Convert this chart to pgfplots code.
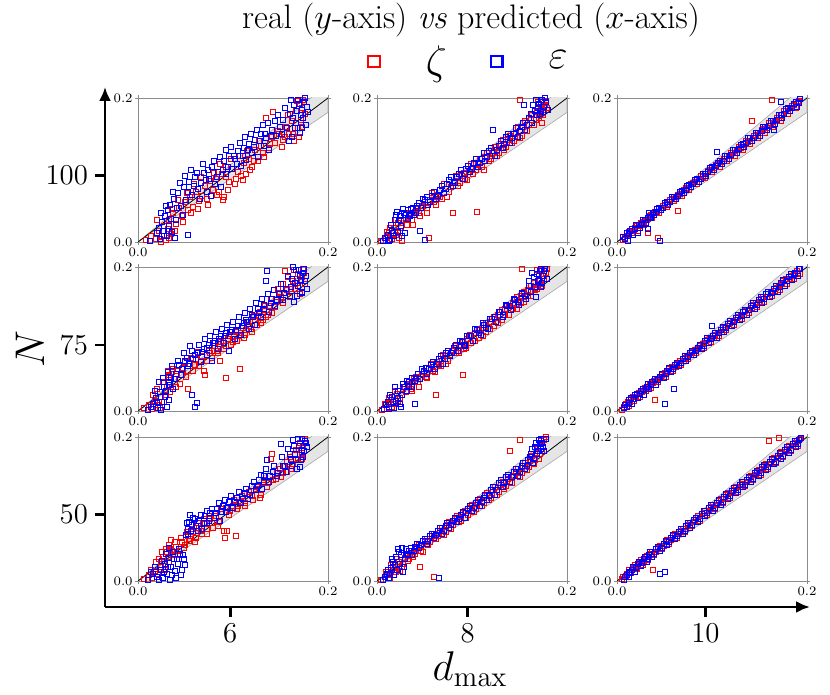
\documentclass[border=0pt]{standalone}
\usepackage{pgfplots}
\pgfplotsset{compat=1.18}
\usetikzlibrary{arrows.meta}
\pgfplotsset{
  pnl/.style={
    scale only axis, width=95pt, height=72pt, anchor=north west,
    xmin=0, xmax=0.2, ymin=0, ymax=0.2,
    xtick={0,0.2}, ytick={0,0.2},
    xticklabels={0.0,0.2}, yticklabels={0.0,0.2},
    tick align=outside, major tick length=1.5pt,
    axis line style={black!45, line width=0.4pt},
    every tick/.style={black!45, line width=0.4pt},
    tick label style={font=\fontsize{6.5}{7}\selectfont, inner sep=1pt},
    clip=true,
  },
  rmark/.style={only marks, mark=square, mark size=1.25pt, red, mark options={line width=0.4pt}},
  bmark/.style={only marks, mark=square, mark size=1.25pt, blue, mark options={line width=0.4pt}},
}
\newcommand{\panel}[5]{%
\begin{axis}[pnl, at={#1}]
\addplot[fill=black!10, draw=black!35, line width=0.3pt] coordinates {(0,0) (0.2,0.22) (0.2,0.18) (0,0)};
\addplot[rmark] coordinates {#2 #4};
\addplot[bmark] coordinates {#3 #5};
\addplot[black, line width=0.4pt] coordinates {(0,0) (0.2,0.2)};
\end{axis}}
\begin{document}
\begin{tikzpicture}
\useasboundingbox (0,0) rectangle (415pt,347.5pt);
\node at (235.5pt,337.5pt) {\fontsize{17}{19}\selectfont real ($y$-axis) \textit{vs} predicted ($x$-axis)};
\node[rotate=90] at (15pt,173pt) {\fontsize{22}{24}\selectfont $N$};
\node at (235pt,13pt) {\fontsize{22}{24}\selectfont $d_{\max}$};
\begin{axis}[scale only axis, at={(52.5pt,44pt)}, anchor=south west,
  width=352.5pt, height=260pt,
  xmin=4.947, xmax=10.88, ymin=36.4, ymax=113,
  axis lines=left,
  axis line style={line width=1.4pt, -{Latex[length=7pt,width=6pt]}},
  xtick={6,8,10}, ytick={50,75,100},
  tick align=outside, major tick length=5pt,
  every tick/.style={black, line width=1.4pt},
  tick label style={font=\fontsize{15}{18}\selectfont},
  legend style={draw=none, fill=none, at={(axis description cs:0.516,1.049)}, anchor=center,
    legend columns=2, font=\fontsize{21}{23}\selectfont, inner sep=0pt,
    /tikz/every even column/.append style={column sep=19pt}},
  legend image code/.code={\path[draw=none,fill=none] (0pt,-3pt) rectangle (28pt,3pt); \draw[mark repeat=2,mark phase=2,#1] plot coordinates {(0pt,0pt)(4pt,0pt)(28pt,0pt)};},
]
\addlegendimage{only marks, mark=square, mark size=2.9pt, red, mark options={line width=1.1pt}}
\addlegendentry{$\zeta$}
\addlegendimage{only marks, mark=square, mark size=2.9pt, blue, mark options={line width=1.1pt}}
\addlegendentry{$\varepsilon$}
\end{axis}
% row 1
\panel{(69pt,298.5pt)}{(.008,.003) (.014,.008) (.019,.004) (.022,.015) (.025,.009) (.027,.022) (.029,.003) (.031,.018) (.033,.030) (.035,.011) (.037,.040) (.040,.025) (.043,.048) (.046,.036) (.049,.055) (.052,.044) (.055,.062) (.058,.049) (.061,.070) (.064,.057) (.067,.064) (.070,.078) (.073,.060) (.076,.085) (.079,.072) (.082,.088) (.085,.070) (.088,.094) (.090,.063) (.093,.090) (.096,.084) (.099,.101) (.102,.080) (.105,.098) (.108,.092) (.111,.110) (.114,.095) (.117,.116) (.120,.104) (.123,.128) (.126,.112) (.129,.133) (.132,.118) (.135,.172) (.138,.130) (.141,.146) (.144,.138) (.148,.150) (.152,.142) (.156,.160) (.159,.150) (.162,.168) (.164,.140) (.166,.182) (.168,.158) (.170,.192) (.171,.170) (.173,.186) (.174,.198) (.176,.178)}
{(.012,.002) (.020,.012) (.023,.004) (.025,.028) (.026,.016) (.028,.036) (.030,.008) (.031,.044) (.033,.022) (.034,.052) (.036,.014) (.038,.060) (.040,.030) (.042,.068) (.045,.050) (.048,.076) (.050,.058) (.052,.010) (.054,.084) (.057,.066) (.060,.090) (.063,.074) (.066,.082) (.069,.096) (.072,.070) (.075,.088) (.078,.104) (.081,.080) (.084,.098) (.087,.076) (.090,.112) (.093,.094) (.096,.120) (.099,.102) (.102,.116) (.105,.126) (.108,.106) (.111,.130) (.114,.114) (.117,.136) (.120,.124) (.123,.142) (.126,.118) (.129,.150) (.132,.134) (.135,.144) (.138,.128) (.141,.156) (.145,.148) (.149,.160) (.153,.170) (.157,.158) (.160,.178) (.162,.146) (.164,.190) (.166,.165) (.168,.198) (.170,.152) (.172,.184) (.174,.172) (.175,.195) (.177,.162) (.178,.188)}
{(.020,.030) (.024,.000) (.032,.006) (.036,.046) (.039,.016) (.042,.058) (.047,.028) (.051,.068) (.056,.040) (.059,.080) (.063,.046) (.066,.090) (.071,.086) (.074,.052) (.080,.096) (.083,.066) (.086,.108) (.089,.058) (.092,.104) (.095,.072) (.098,.115) (.103,.088) (.107,.120) (.110,.086) (.115,.126) (.118,.100) (.122,.112) (.127,.140) (.131,.124) (.134,.150) (.139,.136) (.142,.180) (.147,.154) (.151,.132) (.155,.146) (.158,.176) (.163,.150) (.167,.196) (.169,.146) (.172,.160)}
{(.022,.020) (.024,.040) (.027,.008) (.029,.050) (.032,.016) (.035,.032) (.037,.070) (.039,.006) (.041,.048) (.044,.082) (.047,.038) (.049,.092) (.053,.070) (.056,.100) (.059,.078) (.062,.096) (.065,.060) (.068,.108) (.071,.086) (.074,.100) (.077,.064) (.080,.112) (.083,.090) (.086,.118) (.089,.100) (.092,.128) (.095,.104) (.098,.132) (.101,.120) (.104,.108) (.107,.138) (.110,.120) (.113,.146) (.116,.128) (.119,.150) (.122,.132) (.125,.156) (.128,.140) (.131,.162) (.134,.150) (.137,.166) (.140,.148) (.144,.168) (.147,.176) (.151,.150) (.155,.186) (.159,.140) (.161,.198) (.163,.172) (.165,.158) (.167,.182) (.169,.192) (.171,.176) (.173,.158) (.176,.200) (.179,.180)}
\panel{(188.5pt,298.5pt)}{(.004,.002) (.009,.006) (.013,.012) (.016,.004) (.018,.020) (.020,.010) (.022,.026) (.024,.016) (.026,.002) (.028,.030) (.031,.024) (.034,.036) (.037,.030) (.040,.042) (.044,.040) (.048,.050) (.052,.047) (.055,.005) (.056,.058) (.060,.056) (.064,.066) (.068,.060) (.072,.074) (.076,.070) (.080,.040) (.081,.084) (.085,.078) (.089,.092) (.093,.088) (.097,.098) (.101,.094) (.105,.042) (.106,.108) (.110,.104) (.114,.118) (.118,.112) (.122,.124) (.126,.120) (.130,.136) (.134,.128) (.138,.142) (.142,.138) (.146,.152) (.150,.144) (.150,.198) (.154,.160) (.158,.154) (.162,.170) (.165,.162) (.168,.180) (.170,.172) (.172,.190) (.174,.166) (.176,.184) (.178,.196)}
{(.006,.001) (.011,.010) (.014,.003) (.016,.016) (.018,.008) (.019,.030) (.021,.042) (.022,.014) (.024,.036) (.025,.022) (.027,.046) (.029,.012) (.030,.038) (.033,.032) (.036,.046) (.039,.038) (.042,.050) (.045,.015) (.046,.048) (.050,.003) (.050,.058) (.054,.052) (.058,.064) (.062,.060) (.066,.072) (.070,.068) (.074,.080) (.078,.090) (.082,.082) (.086,.094) (.090,.088) (.094,.102) (.098,.098) (.102,.110) (.106,.104) (.110,.116) (.114,.112) (.118,.126) (.122,.156) (.124,.120) (.128,.134) (.132,.130) (.136,.146) (.140,.138) (.144,.150) (.148,.146) (.152,.160) (.155,.190) (.156,.156) (.160,.172) (.163,.166) (.166,.182) (.168,.176) (.170,.192) (.172,.182) (.174,.198) (.176,.188) (.178,.194) (.180,.184)}
{(.010,.014) (.014,.020) (.017,.008) (.020,.030) (.023,.006) (.025,.020) (.030,.034) (.035,.040) (.038,.024) (.042,.046) (.045,.036) (.050,.056) (.053,.040) (.058,.068) (.062,.052) (.066,.062) (.070,.080) (.074,.062) (.078,.076) (.083,.092) (.087,.082) (.091,.096) (.095,.086) (.099,.108) (.104,.100) (.108,.116) (.112,.100) (.116,.124) (.120,.116) (.124,.132) (.128,.124) (.132,.142) (.136,.132) (.140,.148) (.144,.140) (.148,.160) (.152,.148) (.156,.168) (.160,.162) (.163,.176) (.167,.170) (.169,.194) (.171,.182) (.175,.176) (.177,.190) (.179,.186)}
{(.008,.006) (.012,.002) (.015,.024) (.017,.012) (.020,.038) (.023,.030) (.026,.008) (.028,.040) (.032,.044) (.035,.036) (.038,.048) (.041,.040) (.044,.054) (.048,.060) (.052,.062) (.056,.056) (.060,.070) (.064,.064) (.068,.078) (.072,.074) (.076,.086) (.080,.078) (.084,.090) (.088,.100) (.092,.094) (.096,.106) (.100,.102) (.104,.116) (.108,.110) (.112,.124) (.116,.118) (.120,.130) (.126,.128) (.130,.140) (.134,.136) (.138,.150) (.142,.144) (.146,.158) (.150,.154) (.154,.166) (.158,.162) (.162,.178) (.164,.190) (.167,.198) (.169,.186) (.171,.178) (.173,.194) (.175,.180) (.177,.200)}
\panel{(308.5pt,298.5pt)}{(.006,.003) (.010,.008) (.013,.014) (.016,.012) (.019,.020) (.022,.016) (.025,.027) (.028,.024) (.031,.030) (.033,.013) (.034,.036) (.037,.034) (.040,.042) (.043,.005) (.044,.040) (.048,.050) (.052,.049) (.056,.058) (.060,.057) (.064,.043) (.064,.066) (.068,.064) (.072,.075) (.076,.072) (.080,.082) (.084,.080) (.088,.092) (.092,.089) (.096,.099) (.100,.098) (.104,.107) (.108,.104) (.112,.115) (.116,.112) (.120,.124) (.124,.120) (.128,.132) (.132,.128) (.136,.140) (.140,.136) (.142,.168) (.144,.148) (.148,.144) (.152,.156) (.156,.152) (.160,.165) (.163,.198) (.164,.160) (.168,.173) (.172,.168) (.176,.182) (.180,.178) (.184,.189) (.188,.186) (.191,.196)}
{(.008,.004) (.011,.002) (.014,.016) (.017,.010) (.020,.024) (.022,.012) (.024,.020) (.027,.030) (.030,.026) (.032,.018) (.034,.040) (.036,.033) (.039,.038) (.042,.046) (.045,.002) (.046,.044) (.050,.054) (.054,.052) (.058,.062) (.062,.060) (.066,.070) (.070,.068) (.074,.078) (.078,.076) (.082,.086) (.086,.084) (.090,.094) (.094,.092) (.098,.103) (.102,.100) (.105,.125) (.106,.110) (.110,.108) (.114,.119) (.118,.116) (.122,.128) (.126,.124) (.130,.135) (.134,.132) (.138,.144) (.142,.140) (.146,.152) (.150,.148) (.154,.160) (.158,.155) (.162,.168) (.165,.156) (.166,.164) (.170,.176) (.172,.195) (.174,.172) (.178,.185) (.182,.182) (.186,.192) (.189,.188) (.192,.199)}
{(.008,.006) (.012,.010) (.015,.016) (.018,.016) (.021,.022) (.024,.022) (.027,.028) (.030,.031) (.033,.032) (.036,.037) (.039,.040) (.042,.041) (.046,.047) (.050,.051) (.054,.053) (.058,.060) (.062,.062) (.066,.067) (.070,.072) (.074,.074) (.078,.080) (.082,.083) (.086,.087) (.090,.091) (.094,.095) (.098,.100) (.102,.103) (.106,.108) (.110,.111) (.114,.116) (.118,.119) (.122,.124) (.126,.128) (.130,.131) (.134,.136) (.138,.139) (.146,.149) (.150,.151) (.154,.157) (.158,.159) (.162,.165) (.166,.168) (.170,.172) (.174,.177) (.178,.182) (.182,.186) (.186,.190) (.190,.194)}
{(.006,.007) (.010,.012) (.013,.011) (.016,.018) (.019,.018) (.023,.024) (.026,.025) (.029,.031) (.032,.034) (.035,.035) (.038,.041) (.041,.042) (.044,.047) (.048,.048) (.052,.055) (.056,.056) (.060,.063) (.064,.064) (.068,.071) (.072,.073) (.076,.079) (.080,.080) (.084,.087) (.088,.088) (.092,.095) (.096,.097) (.100,.104) (.104,.105) (.108,.112) (.112,.113) (.116,.120) (.120,.121) (.124,.128) (.128,.129) (.132,.136) (.136,.138) (.140,.144) (.144,.145) (.148,.152) (.152,.154) (.156,.160) (.160,.161) (.164,.168) (.168,.170) (.172,.176) (.176,.178) (.180,.186) (.184,.186) (.188,.194) (.191,.193)}
% row 2
\panel{(69pt,214pt)}{(.006,.004) (.011,.009) (.015,.003) (.018,.014) (.021,.008) (.024,.020) (.027,.012) (.030,.034) (.032,.050) (.034,.026) (.036,.054) (.038,.044) (.041,.056) (.044,.038) (.047,.060) (.050,.048) (.053,.030) (.055,.066) (.058,.056) (.061,.072) (.064,.062) (.067,.076) (.070,.050) (.072,.070) (.075,.084) (.078,.074) (.081,.090) (.084,.080) (.087,.096) (.090,.086) (.093,.046) (.095,.100) (.098,.092) (.101,.104) (.104,.098) (.107,.058) (.108,.108) (.111,.102) (.114,.112) (.117,.118) (.120,.110) (.123,.126) (.126,.132) (.129,.122) (.132,.140) (.135,.130) (.138,.146) (.141,.136) (.145,.152) (.149,.164) (.152,.150) (.155,.195) (.157,.168) (.160,.158) (.163,.180) (.165,.170) (.168,.190) (.170,.162) (.172,.186) (.174,.198) (.176,.176)}
{(.010,.002) (.016,.010) (.019,.018) (.021,.004) (.023,.026) (.025,.012) (.027,.034) (.028,.020) (.030,.006) (.032,.040) (.033,.016) (.035,.046) (.037,.030) (.040,.052) (.043,.064) (.046,.058) (.049,.070) (.052,.062) (.055,.090) (.057,.023) (.058,.072) (.060,.005) (.062,.011) (.063,.080) (.066,.068) (.069,.086) (.072,.078) (.075,.092) (.078,.070) (.081,.098) (.084,.086) (.087,.104) (.090,.094) (.093,.108) (.096,.084) (.099,.112) (.102,.100) (.105,.118) (.108,.106) (.111,.122) (.114,.126) (.117,.114) (.120,.134) (.123,.120) (.126,.142) (.129,.130) (.132,.148) (.135,.180) (.136,.194) (.138,.138) (.141,.156) (.144,.146) (.148,.162) (.152,.154) (.156,.170) (.160,.160) (.162,.184) (.164,.152) (.166,.196) (.168,.174) (.170,.188) (.172,.164) (.174,.192) (.176,.180) (.178,.170)}
{(.016,.022) (.020,.030) (.023,.004) (.026,.040) (.029,.022) (.031,.056) (.033,.046) (.037,.058) (.040,.034) (.043,.064) (.046,.050) (.049,.068) (.052,.056) (.056,.074) (.060,.064) (.063,.082) (.066,.070) (.069,.056) (.073,.088) (.076,.080) (.080,.094) (.083,.084) (.086,.070) (.089,.098) (.092,.090) (.096,.104) (.100,.096) (.103,.110) (.106,.104) (.110,.116) (.113,.106) (.116,.124) (.119,.114) (.122,.132) (.125,.120) (.128,.138) (.131,.126) (.134,.146) (.137,.134) (.140,.156) (.144,.144) (.147,.170) (.150,.158) (.153,.176) (.158,.186) (.161,.170) (.164,.196) (.167,.178) (.171,.180) (.175,.192)}
{(.014,.006) (.018,.028) (.020,.012) (.022,.040) (.024,.002) (.026,.046) (.029,.028) (.031,.054) (.034,.036) (.036,.062) (.039,.044) (.042,.070) (.045,.050) (.048,.080) (.051,.074) (.054,.066) (.057,.084) (.060,.078) (.064,.092) (.067,.082) (.070,.100) (.073,.088) (.076,.104) (.079,.094) (.082,.110) (.085,.100) (.088,.114) (.091,.104) (.094,.120) (.097,.110) (.100,.124) (.103,.112) (.106,.130) (.109,.118) (.112,.136) (.115,.124) (.118,.142) (.121,.130) (.124,.150) (.127,.136) (.130,.156) (.133,.142) (.137,.162) (.140,.150) (.143,.168) (.146,.154) (.150,.176) (.154,.164) (.158,.188) (.161,.172) (.163,.200) (.165,.178) (.167,.160) (.169,.196) (.171,.182) (.173,.166) (.175,.198) (.177,.188)}
\panel{(188.5pt,214pt)}{(.005,.002) (.009,.008) (.012,.004) (.015,.016) (.018,.010) (.021,.024) (.024,.018) (.027,.030) (.030,.026) (.033,.036) (.036,.030) (.039,.044) (.043,.040) (.047,.052) (.051,.048) (.055,.060) (.059,.056) (.062,.022) (.063,.068) (.067,.062) (.071,.076) (.075,.070) (.079,.084) (.083,.080) (.087,.092) (.090,.050) (.091,.086) (.095,.100) (.099,.094) (.103,.108) (.107,.102) (.111,.116) (.115,.110) (.119,.124) (.123,.118) (.127,.134) (.131,.126) (.135,.142) (.139,.134) (.143,.150) (.147,.142) (.151,.160) (.153,.198) (.155,.152) (.159,.168) (.162,.160) (.165,.178) (.168,.170) (.170,.188) (.172,.176) (.174,.196) (.176,.184) (.178,.192)}
{(.007,.003) (.011,.012) (.013,.006) (.016,.020) (.018,.004) (.020,.014) (.022,.028) (.024,.010) (.026,.022) (.028,.034) (.031,.028) (.034,.040) (.037,.034) (.040,.010) (.041,.046) (.045,.044) (.049,.056) (.053,.052) (.057,.064) (.061,.058) (.065,.072) (.069,.066) (.073,.080) (.077,.076) (.081,.088) (.085,.084) (.089,.096) (.093,.090) (.097,.104) (.101,.098) (.105,.112) (.109,.106) (.113,.120) (.117,.114) (.121,.128) (.125,.124) (.129,.138) (.133,.130) (.137,.146) (.141,.140) (.145,.154) (.149,.148) (.153,.162) (.157,.156) (.160,.174) (.162,.166) (.165,.186) (.167,.158) (.169,.180) (.171,.194) (.173,.172) (.175,.188) (.177,.198) (.179,.184)}
{(.008,.010) (.013,.018) (.016,.006) (.019,.028) (.022,.014) (.026,.022) (.029,.034) (.034,.038) (.037,.028) (.041,.048) (.044,.034) (.049,.054) (.053,.046) (.057,.066) (.061,.054) (.065,.064) (.069,.078) (.073,.066) (.077,.078) (.082,.090) (.086,.080) (.090,.098) (.094,.088) (.098,.106) (.103,.098) (.107,.114) (.111,.104) (.115,.122) (.119,.114) (.123,.130) (.127,.122) (.131,.140) (.135,.134) (.139,.146) (.143,.142) (.147,.158) (.151,.150) (.155,.166) (.159,.160) (.162,.174) (.166,.168) (.168,.196) (.171,.180) (.174,.174) (.176,.190) (.179,.198)}
{(.009,.008) (.012,.003) (.014,.022) (.017,.012) (.019,.034) (.022,.018) (.025,.006) (.027,.038) (.031,.042) (.034,.034) (.037,.046) (.040,.042) (.043,.052) (.047,.058) (.051,.060) (.055,.058) (.059,.068) (.063,.066) (.067,.076) (.071,.072) (.075,.084) (.079,.080) (.083,.092) (.087,.098) (.091,.092) (.095,.104) (.099,.104) (.103,.114) (.107,.108) (.111,.122) (.115,.116) (.119,.128) (.124,.130) (.128,.138) (.132,.134) (.136,.148) (.140,.146) (.144,.156) (.148,.152) (.152,.164) (.156,.160) (.160,.180) (.163,.192) (.166,.172) (.168,.190) (.170,.182) (.172,.198) (.174,.178) (.176,.194)}
\panel{(308.5pt,214pt)}{(.005,.002) (.009,.010) (.012,.007) (.015,.017) (.018,.014) (.021,.024) (.024,.020) (.027,.030) (.030,.028) (.033,.034) (.036,.032) (.040,.015) (.039,.042) (.043,.040) (.047,.050) (.051,.048) (.055,.058) (.059,.056) (.063,.066) (.067,.064) (.071,.074) (.075,.072) (.079,.082) (.083,.080) (.087,.090) (.091,.088) (.095,.099) (.099,.096) (.103,.106) (.107,.104) (.111,.115) (.115,.112) (.119,.123) (.123,.120) (.127,.131) (.131,.128) (.135,.139) (.139,.136) (.143,.147) (.147,.144) (.151,.155) (.155,.152) (.159,.163) (.163,.160) (.167,.171) (.171,.168) (.175,.180) (.179,.176) (.183,.188) (.186,.184) (.189,.195) (.192,.190)}
{(.007,.004) (.010,.006) (.013,.015) (.016,.010) (.019,.022) (.022,.018) (.025,.028) (.028,.022) (.031,.033) (.034,.030) (.037,.040) (.041,.036) (.045,.048) (.050,.010) (.049,.046) (.053,.056) (.057,.054) (.060,.030) (.061,.064) (.065,.062) (.069,.072) (.073,.070) (.077,.080) (.081,.078) (.085,.088) (.089,.086) (.093,.097) (.097,.094) (.100,.118) (.101,.104) (.105,.102) (.109,.113) (.113,.110) (.117,.121) (.121,.118) (.125,.129) (.129,.126) (.133,.137) (.137,.134) (.141,.146) (.145,.142) (.149,.154) (.153,.150) (.157,.162) (.161,.158) (.165,.170) (.169,.166) (.173,.178) (.177,.174) (.181,.186) (.184,.182) (.187,.192) (.190,.188) (.193,.198)}
{(.007,.005) (.011,.012) (.014,.013) (.017,.019) (.020,.020) (.023,.025) (.026,.026) (.029,.032) (.032,.031) (.035,.038) (.038,.039) (.042,.045) (.046,.046) (.050,.053) (.054,.054) (.058,.061) (.062,.061) (.066,.069) (.070,.070) (.074,.077) (.078,.078) (.082,.085) (.086,.086) (.090,.093) (.094,.094) (.098,.101) (.102,.102) (.106,.109) (.110,.110) (.114,.117) (.118,.118) (.122,.125) (.126,.126) (.130,.133) (.134,.134) (.138,.141) (.142,.143) (.146,.150) (.150,.151) (.154,.158) (.158,.159) (.162,.166) (.166,.167) (.170,.174) (.174,.176) (.178,.183) (.182,.184) (.186,.191) (.190,.192)}
{(.008,.008) (.012,.011) (.015,.018) (.018,.017) (.021,.024) (.024,.024) (.027,.031) (.030,.030) (.033,.037) (.036,.036) (.040,.044) (.043,.043) (.047,.051) (.051,.051) (.055,.060) (.059,.059) (.063,.067) (.067,.067) (.071,.076) (.075,.075) (.079,.084) (.083,.083) (.087,.092) (.091,.091) (.095,.101) (.099,.100) (.103,.109) (.107,.108) (.111,.117) (.115,.116) (.119,.125) (.123,.124) (.127,.133) (.131,.132) (.135,.141) (.139,.140) (.143,.150) (.147,.148) (.151,.158) (.155,.156) (.159,.166) (.163,.164) (.167,.174) (.171,.172) (.175,.182) (.179,.181) (.183,.190) (.187,.190) (.191,.197)}
% row 3
\panel{(69pt,129pt)}{(.006,.003) (.011,.008) (.015,.004) (.018,.014) (.021,.010) (.024,.020) (.026,.034) (.028,.016) (.030,.040) (.032,.026) (.034,.044) (.035,.057) (.037,.036) (.040,.048) (.043,.042) (.046,.054) (.049,.050) (.052,.062) (.055,.058) (.058,.068) (.061,.060) (.064,.074) (.067,.066) (.070,.080) (.073,.072) (.076,.086) (.079,.074) (.082,.090) (.085,.082) (.088,.096) (.091,.060) (.094,.070) (.096,.092) (.100,.104) (.103,.062) (.104,.100) (.108,.110) (.112,.104) (.116,.114) (.120,.118) (.124,.128) (.128,.116) (.132,.136) (.136,.130) (.140,.170) (.142,.140) (.146,.150) (.150,.144) (.154,.160) (.157,.152) (.160,.172) (.163,.162) (.166,.182) (.168,.170) (.170,.192) (.172,.178) (.174,.188) (.176,.198)}
{(.010,.002) (.016,.010) (.020,.006) (.024,.016) (.026,.004) (.028,.024) (.030,.010) (.032,.032) (.034,.002) (.035,.020) (.037,.040) (.039,.014) (.041,.030) (.043,.044) (.045,.008) (.047,.036) (.049,.023) (.050,.064) (.052,.072) (.054,.082) (.056,.070) (.058,.088) (.061,.076) (.064,.084) (.067,.072) (.070,.090) (.073,.080) (.076,.094) (.080,.088) (.083,.100) (.086,.084) (.089,.104) (.092,.096) (.096,.110) (.100,.102) (.104,.116) (.108,.108) (.112,.122) (.116,.114) (.120,.132) (.124,.126) (.127,.140) (.130,.128) (.133,.146) (.136,.168) (.138,.138) (.142,.152) (.146,.146) (.150,.190) (.152,.160) (.156,.152) (.160,.176) (.162,.160) (.164,.188) (.166,.168) (.168,.198) (.170,.158) (.172,.182) (.174,.172) (.176,.194) (.178,.186)}
{(.014,.016) (.019,.026) (.022,.030) (.025,.040) (.027,.028) (.029,.044) (.031,.034) (.033,.050) (.036,.042) (.039,.054) (.042,.036) (.045,.060) (.048,.046) (.051,.068) (.054,.056) (.057,.072) (.060,.054) (.063,.080) (.066,.070) (.069,.086) (.072,.066) (.075,.090) (.078,.080) (.081,.094) (.084,.076) (.087,.100) (.090,.070) (.093,.102) (.097,.098) (.101,.112) (.105,.104) (.109,.118) (.113,.108) (.117,.124) (.121,.112) (.125,.130) (.129,.120) (.133,.140) (.137,.136) (.141,.176) (.145,.142) (.149,.156) (.153,.150) (.157,.166) (.161,.156) (.165,.176) (.169,.182) (.173,.170) (.177,.192)}
{(.014,.012) (.018,.020) (.022,.002) (.025,.028) (.027,.012) (.029,.038) (.031,.020) (.033,.046) (.036,.008) (.038,.030) (.040,.004) (.042,.024) (.044,.038) (.046,.016) (.048,.030) (.051,.080) (.053,.066) (.055,.092) (.057,.078) (.060,.086) (.063,.070) (.066,.092) (.069,.080) (.072,.098) (.075,.084) (.078,.100) (.082,.094) (.085,.108) (.088,.096) (.091,.112) (.094,.102) (.098,.118) (.102,.110) (.106,.124) (.110,.114) (.114,.128) (.118,.120) (.122,.138) (.126,.132) (.129,.148) (.132,.138) (.135,.156) (.139,.146) (.143,.160) (.147,.150) (.151,.172) (.155,.160) (.158,.184) (.161,.168) (.163,.196) (.165,.176) (.167,.156) (.169,.188) (.171,.168) (.173,.198) (.175,.180) (.177,.192)}
\panel{(188.5pt,129pt)}{(.004,.001) (.008,.006) (.011,.012) (.014,.004) (.017,.018) (.020,.012) (.023,.026) (.026,.020) (.029,.032) (.032,.028) (.035,.038) (.038,.034) (.042,.046) (.045,.020) (.046,.042) (.050,.054) (.054,.050) (.058,.062) (.060,.006) (.062,.058) (.066,.070) (.070,.064) (.074,.078) (.078,.072) (.082,.086) (.086,.082) (.090,.094) (.094,.088) (.098,.102) (.102,.096) (.106,.110) (.110,.104) (.114,.118) (.118,.112) (.122,.126) (.126,.120) (.130,.134) (.134,.128) (.138,.142) (.140,.180) (.142,.136) (.146,.150) (.150,.196) (.150,.144) (.154,.160) (.158,.154) (.162,.168) (.165,.162) (.168,.178) (.170,.170) (.172,.188) (.174,.180) (.176,.196)}
{(.006,.002) (.010,.010) (.013,.004) (.015,.018) (.017,.026) (.018,.008) (.020,.034) (.021,.016) (.023,.040) (.024,.024) (.026,.046) (.027,.012) (.029,.030) (.031,.038) (.034,.042) (.037,.036) (.040,.048) (.044,.046) (.048,.056) (.052,.052) (.056,.062) (.060,.060) (.064,.070) (.065,.004) (.068,.066) (.072,.076) (.076,.074) (.080,.084) (.084,.082) (.088,.092) (.092,.088) (.096,.100) (.100,.098) (.104,.108) (.108,.104) (.112,.116) (.116,.112) (.120,.126) (.124,.120) (.128,.136) (.132,.130) (.136,.144) (.140,.138) (.144,.152) (.148,.146) (.152,.160) (.156,.156) (.159,.168) (.162,.176) (.164,.164) (.166,.186) (.168,.176) (.170,.196) (.172,.184) (.174,.192) (.176,.180) (.178,.198)}
{(.009,.012) (.012,.008) (.015,.022) (.018,.016) (.021,.030) (.024,.014) (.027,.024) (.030,.036) (.034,.030) (.037,.042) (.040,.038) (.044,.050) (.048,.040) (.052,.058) (.056,.054) (.060,.066) (.064,.062) (.068,.074) (.072,.068) (.076,.082) (.080,.078) (.084,.090) (.088,.084) (.092,.098) (.096,.092) (.100,.106) (.104,.100) (.108,.114) (.112,.108) (.116,.122) (.120,.116) (.124,.130) (.128,.124) (.132,.138) (.136,.132) (.144,.146) (.148,.156) (.152,.150) (.156,.164) (.160,.158) (.163,.174) (.166,.168) (.169,.184) (.171,.176) (.173,.194) (.175,.186) (.178,.200)}
{(.008,.006) (.011,.016) (.014,.010) (.016,.030) (.019,.022) (.022,.044) (.025,.036) (.028,.020) (.030,.044) (.033,.036) (.036,.046) (.039,.042) (.042,.052) (.046,.050) (.050,.058) (.054,.056) (.058,.066) (.062,.064) (.066,.074) (.070,.070) (.074,.080) (.078,.078) (.082,.088) (.086,.086) (.090,.096) (.094,.094) (.098,.104) (.102,.102) (.106,.112) (.110,.110) (.114,.120) (.118,.118) (.122,.130) (.126,.126) (.130,.140) (.134,.136) (.138,.148) (.142,.144) (.146,.156) (.150,.152) (.154,.164) (.158,.160) (.161,.172) (.163,.184) (.165,.170) (.167,.192) (.169,.180) (.171,.190) (.173,.198) (.175,.186)}
\panel{(308.5pt,129pt)}{(.005,.003) (.009,.007) (.012,.013) (.015,.011) (.018,.020) (.021,.017) (.024,.027) (.027,.023) (.030,.033) (.033,.029) (.036,.038) (.038,.016) (.039,.036) (.043,.046) (.047,.044) (.051,.054) (.055,.052) (.059,.062) (.063,.060) (.067,.070) (.071,.068) (.075,.078) (.079,.076) (.083,.087) (.087,.084) (.091,.095) (.095,.092) (.099,.103) (.103,.100) (.107,.111) (.111,.108) (.115,.119) (.119,.116) (.123,.127) (.127,.124) (.131,.135) (.135,.132) (.139,.143) (.143,.140) (.147,.151) (.151,.148) (.155,.160) (.159,.156) (.160,.194) (.163,.168) (.167,.164) (.170,.199) (.171,.176) (.175,.172) (.179,.184) (.183,.180) (.187,.192) (.190,.188) (.193,.198)}
{(.007,.002) (.010,.009) (.013,.006) (.016,.016) (.019,.013) (.022,.024) (.025,.021) (.028,.031) (.031,.027) (.034,.036) (.037,.034) (.041,.044) (.045,.010) (.045,.042) (.049,.052) (.050,.013) (.053,.050) (.057,.060) (.061,.058) (.065,.068) (.069,.066) (.073,.076) (.077,.074) (.081,.085) (.085,.082) (.089,.093) (.093,.090) (.097,.101) (.101,.098) (.105,.109) (.109,.106) (.113,.117) (.117,.114) (.121,.125) (.125,.122) (.129,.133) (.133,.130) (.137,.141) (.141,.138) (.145,.150) (.149,.146) (.153,.158) (.157,.154) (.161,.166) (.165,.162) (.169,.174) (.173,.170) (.177,.182) (.181,.178) (.185,.190) (.188,.186) (.191,.196) (.194,.199)}
{(.006,.006) (.010,.010) (.013,.015) (.016,.016) (.019,.022) (.022,.021) (.025,.029) (.028,.028) (.031,.035) (.034,.034) (.037,.041) (.041,.041) (.045,.049) (.049,.049) (.053,.057) (.057,.057) (.061,.065) (.065,.065) (.069,.073) (.073,.073) (.077,.081) (.081,.082) (.085,.090) (.089,.090) (.093,.098) (.097,.098) (.101,.106) (.105,.106) (.109,.114) (.113,.114) (.117,.122) (.121,.122) (.125,.130) (.129,.130) (.133,.138) (.137,.138) (.141,.146) (.145,.147) (.149,.154) (.153,.155) (.157,.162) (.161,.163) (.165,.171) (.169,.171) (.173,.179) (.177,.179) (.181,.187) (.185,.187) (.189,.195)}
{(.008,.005) (.012,.012) (.014,.011) (.017,.019) (.020,.018) (.023,.027) (.026,.025) (.029,.033) (.032,.031) (.035,.040) (.039,.038) (.043,.048) (.047,.046) (.051,.056) (.055,.054) (.059,.064) (.063,.062) (.067,.072) (.071,.070) (.075,.080) (.079,.078) (.083,.088) (.087,.086) (.091,.097) (.095,.094) (.099,.105) (.103,.102) (.107,.113) (.111,.110) (.115,.121) (.119,.118) (.123,.129) (.127,.126) (.131,.137) (.135,.134) (.139,.145) (.143,.142) (.147,.153) (.151,.150) (.155,.161) (.159,.158) (.163,.170) (.167,.166) (.171,.178) (.175,.174) (.179,.186) (.183,.182) (.187,.194) (.190,.190)}
\end{tikzpicture}
\end{document}
